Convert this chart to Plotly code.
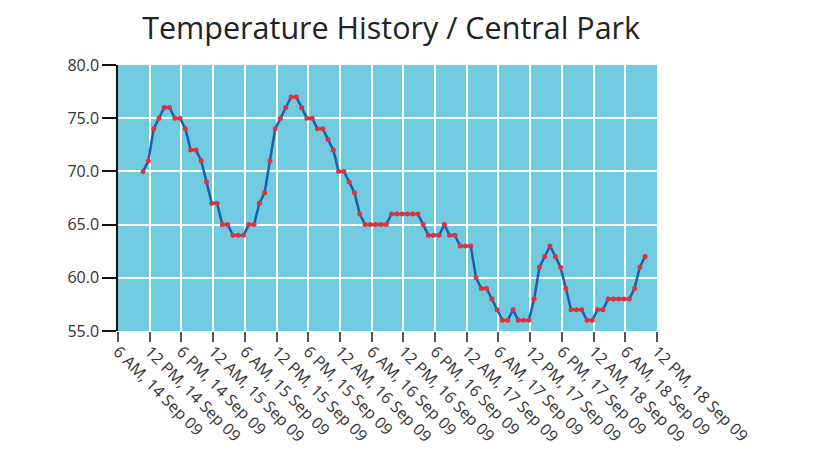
import pandas as pd
import plotly.graph_objects as go

# Hourly temperature readings (°F), Central Park
start_time = "2009-09-14 10:45"
temps = [70, 71, 74, 75, 76, 76, 75, 75, 74, 72, 72, 71, 69, 67, 67, 65,
         65, 64, 64, 64, 65, 65, 67, 68, 71, 74, 75, 76, 77, 77, 76, 75,
         75, 74, 74, 73, 72, 70, 70, 69, 68, 66, 65, 65, 65, 65, 65, 66,
         66, 66, 66, 66, 66, 65, 64, 64, 64, 65, 64, 64, 63, 63,
         63, 60, 59, 59, 58, 57, 56, 56, 57, 56, 56, 56, 58, 61, 62, 63,
         62, 61, 59, 57, 57, 57, 56, 56, 57, 57, 58, 58, 58, 58, 58, 59,
         61, 62]
times = pd.date_range(start=start_time, periods=len(temps), freq="h")

tick_times = ["2009-09-14 06:00", "2009-09-14 12:00", "2009-09-14 18:00",
              "2009-09-15 00:00", "2009-09-15 06:00", "2009-09-15 12:00",
              "2009-09-15 18:00", "2009-09-16 00:00", "2009-09-16 06:00",
              "2009-09-16 12:00", "2009-09-16 18:00", "2009-09-17 00:00",
              "2009-09-17 06:00", "2009-09-17 12:00", "2009-09-17 18:00",
              "2009-09-18 00:00", "2009-09-18 06:00", "2009-09-18 12:00"]
tick_labels = ["6 AM, 14 Sep 09", "12 PM, 14 Sep 09", "6 PM, 14 Sep 09",
               "12 AM, 15 Sep 09", "6 AM, 15 Sep 09", "12 PM, 15 Sep 09",
               "6 PM, 15 Sep 09", "12 AM, 16 Sep 09", "6 AM, 16 Sep 09",
               "12 PM, 16 Sep 09", "6 PM, 16 Sep 09", "12 AM, 17 Sep 09",
               "6 AM, 17 Sep 09", "12 PM, 17 Sep 09", "6 PM, 17 Sep 09",
               "12 AM, 18 Sep 09", "6 AM, 18 Sep 09", "12 PM, 18 Sep 09"]
y_ticks = [55, 60, 65, 70, 75, 80]
y_tick_labels = ["55.0", "60.0", "65.0", "70.0", "75.0", "80.0"]

fig = go.Figure()
fig.add_trace(go.Scatter(
    x=times, y=temps, mode="lines+markers",
    line=dict(color="#1a5fae", width=2.5),
    marker=dict(color="#e0323a", size=5),
    showlegend=False,
))

font_family = "Open Sans, Noto Sans, sans-serif"
fig.update_layout(
    width=820, height=452,
    margin=dict(l=118, r=163, t=65, b=121),
    paper_bgcolor="white",
    plot_bgcolor="#70cbe0",
    font=dict(family=font_family, size=16, color="#333333"),
    title=dict(text="Temperature History / Central Park",
               x=0.477, xanchor="center", y=0.938, yanchor="middle",
               font=dict(family=font_family, size=30.5, color="#222222")),
    xaxis=dict(
        range=[tick_times[0], tick_times[-1]],
        tickmode="array", tickvals=tick_times, ticktext=tick_labels,
        tickangle=45, ticks="outside", ticklen=10, tickwidth=1.5,
        tickcolor="#555555", ticklabelstandoff=-6,
        showgrid=True, gridcolor="white", gridwidth=2,
        showline=False, zeroline=False, automargin=False,
        tickfont=dict(size=16, color="#333333"),
    ),
    yaxis=dict(
        range=[55, 80],
        tickmode="array", tickvals=y_ticks, ticktext=y_tick_labels,
        ticks="outside", ticklen=14, tickwidth=1.5, tickcolor="#111111",
        showline=True, linecolor="#111111", linewidth=1.5,
        showgrid=True, gridcolor="white", gridwidth=2,
        zeroline=False, automargin=False,
        tickfont=dict(size=16, color="#333333"),
    ),
)

fig.write_html("out.html")
